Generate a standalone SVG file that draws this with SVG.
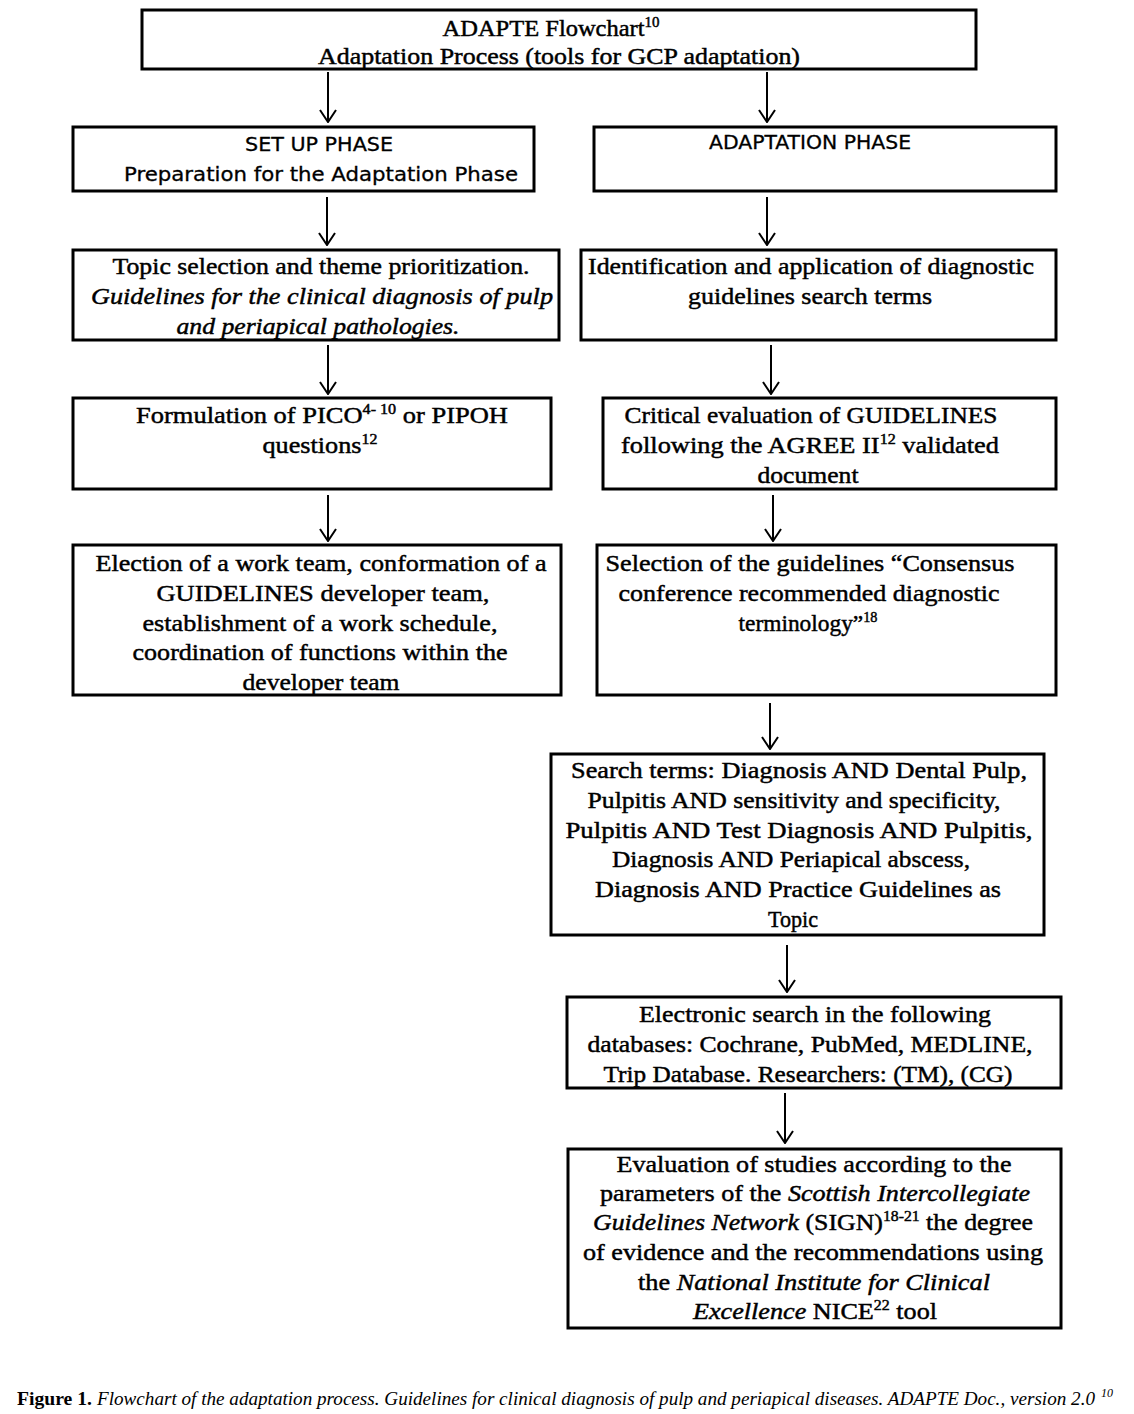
<svg xmlns="http://www.w3.org/2000/svg" width="1134" height="1414" viewBox="0 0 1134 1414">
<style>
  .box { fill: #ffffff; stroke: #000000; stroke-width: 3; }
  .t { font-family: "Liberation Serif", "Times New Roman", serif; font-size: 23px; fill: #000; stroke: #000; stroke-width: 0.45; text-anchor: middle; }
  .s { font-family: "DejaVu Sans", "Liberation Sans", sans-serif; font-size: 19px; fill: #000; stroke: #000; stroke-width: 0.3; text-anchor: middle; }
  .i { font-style: italic; }
  .sup { font-size: 14px; }
  .conn line { stroke: #000; stroke-width: 2; fill: none; }
  .cap { font-family: "Liberation Serif", "Times New Roman", serif; font-size: 19px; fill: #000; }
  .capsup { font-family: "Liberation Serif", "Times New Roman", serif; font-size: 12px; font-style: italic; fill: #000; }
</style>
<defs>
  <marker id="arr" viewBox="0 0 14 18" refX="13" refY="9" markerWidth="14" markerHeight="18" markerUnits="userSpaceOnUse" orient="auto">
    <path d="M1,1 L13,9 L1,17" fill="none" stroke="#000" stroke-width="2"/>
  </marker>
</defs>
<rect width="1134" height="1414" fill="#ffffff"/>

<g id="n-top">
  <rect class="box" x="142" y="10" width="834" height="59"/>
  <text class="t" x="551" y="36" textLength="217" lengthAdjust="spacingAndGlyphs">ADAPTE Flowchart<tspan class="sup" dy="-9">10</tspan></text>
  <text class="t" x="559" y="64" textLength="482" lengthAdjust="spacingAndGlyphs">Adaptation Process (tools for GCP adaptation)</text>
</g>

<g id="n-setup">
  <rect class="box" x="73" y="127" width="461" height="64"/>
  <text class="s" x="319" y="151" textLength="148" lengthAdjust="spacingAndGlyphs">SET UP PHASE</text>
  <text class="s" x="321" y="181" textLength="394" lengthAdjust="spacingAndGlyphs">Preparation for the Adaptation Phase</text>
</g>

<g id="n-adaptation">
  <rect class="box" x="594" y="127" width="462" height="64"/>
  <text class="s" x="810" y="149" textLength="202" lengthAdjust="spacingAndGlyphs">ADAPTATION  PHASE</text>
</g>

<g id="n-topic">
  <rect class="box" x="73" y="250" width="486" height="90"/>
  <text class="t" x="321" y="274" textLength="417" lengthAdjust="spacingAndGlyphs">Topic selection and theme prioritization.</text>
  <text class="t i" x="322" y="304" textLength="462" lengthAdjust="spacingAndGlyphs">Guidelines for the clinical diagnosis of pulp</text>
  <text class="t i" x="318" y="334" textLength="283" lengthAdjust="spacingAndGlyphs">and periapical pathologies.</text>
</g>

<g id="n-identification">
  <rect class="box" x="581" y="250" width="475" height="90"/>
  <text class="t" x="811" y="274" textLength="446" lengthAdjust="spacingAndGlyphs">Identification  and application of diagnostic</text>
  <text class="t" x="810" y="304" textLength="244" lengthAdjust="spacingAndGlyphs">guidelines search terms</text>
</g>

<g id="n-formulation">
  <rect class="box" x="73" y="398" width="478" height="91"/>
  <text class="t" x="322" y="423" textLength="372" lengthAdjust="spacingAndGlyphs">Formulation of PICO<tspan class="sup" dy="-9">4- 10</tspan><tspan dy="9"> or PIPOH</tspan></text>
  <text class="t" x="320" y="453" textLength="115" lengthAdjust="spacingAndGlyphs">questions<tspan class="sup" dy="-9">12</tspan></text>
</g>

<g id="n-critical">
  <rect class="box" x="603" y="398" width="453" height="91"/>
  <text class="t" x="811" y="423" textLength="373" lengthAdjust="spacingAndGlyphs">Critical evaluation of GUIDELINES</text>
  <text class="t" x="810" y="453" textLength="378" lengthAdjust="spacingAndGlyphs">following the AGREE II<tspan class="sup" dy="-9">12</tspan><tspan dy="9"> validated</tspan></text>
  <text class="t" x="808" y="483" textLength="101" lengthAdjust="spacingAndGlyphs">document</text>
</g>

<g id="n-election">
  <rect class="box" x="73" y="545" width="488" height="150"/>
  <text class="t" x="321" y="571" textLength="451" lengthAdjust="spacingAndGlyphs">Election of a work team, conformation  of a</text>
  <text class="t" x="323" y="601" textLength="333" lengthAdjust="spacingAndGlyphs">GUIDELINES  developer team,</text>
  <text class="t" x="320" y="631" textLength="355" lengthAdjust="spacingAndGlyphs">establishment of a work schedule,</text>
  <text class="t" x="320" y="660" textLength="375" lengthAdjust="spacingAndGlyphs">coordination  of functions  within the</text>
  <text class="t" x="321" y="690" textLength="157" lengthAdjust="spacingAndGlyphs">developer team</text>
</g>

<g id="n-selection">
  <rect class="box" x="597" y="545" width="459" height="150"/>
  <text class="t" x="810" y="571" textLength="409" lengthAdjust="spacingAndGlyphs">Selection of the guidelines  “Consensus</text>
  <text class="t" x="809" y="601" textLength="381" lengthAdjust="spacingAndGlyphs">conference   recommended  diagnostic</text>
  <text class="t" x="808" y="631" textLength="139" lengthAdjust="spacingAndGlyphs">terminology”<tspan class="sup" dy="-9">18</tspan></text>
</g>

<g id="n-search">
  <rect class="box" x="551" y="754" width="493" height="181"/>
  <text class="t" x="799" y="778" textLength="456" lengthAdjust="spacingAndGlyphs">Search terms: Diagnosis  AND  Dental Pulp,</text>
  <text class="t" x="794" y="808" textLength="413" lengthAdjust="spacingAndGlyphs">Pulpitis AND sensitivity and specificity,</text>
  <text class="t" x="799" y="838" textLength="467" lengthAdjust="spacingAndGlyphs">Pulpitis AND Test Diagnosis AND Pulpitis,</text>
  <text class="t" x="791" y="867" textLength="358" lengthAdjust="spacingAndGlyphs">Diagnosis  AND  Periapical abscess,</text>
  <text class="t" x="798" y="897" textLength="406" lengthAdjust="spacingAndGlyphs">Diagnosis  AND  Practice  Guidelines as</text>
  <text class="t" x="793" y="927" textLength="50" lengthAdjust="spacingAndGlyphs">Topic</text>
</g>

<g id="n-electronic">
  <rect class="box" x="567" y="997" width="494" height="91"/>
  <text class="t" x="815" y="1022" textLength="352" lengthAdjust="spacingAndGlyphs">Electronic  search  in the following</text>
  <text class="t" x="810" y="1052" textLength="445" lengthAdjust="spacingAndGlyphs">databases:  Cochrane,  PubMed, MEDLINE,</text>
  <text class="t" x="808" y="1082" textLength="409" lengthAdjust="spacingAndGlyphs">Trip Database. Researchers:  (TM), (CG)</text>
</g>

<g id="n-evaluation">
  <rect class="box" x="568" y="1149" width="493" height="179"/>
  <text class="t" x="814" y="1172" textLength="395" lengthAdjust="spacingAndGlyphs">Evaluation  of  studies  according  to the</text>
  <text class="t" x="815" y="1201" textLength="430" lengthAdjust="spacingAndGlyphs">parameters  of the <tspan class="i">Scottish Intercollegiate</tspan></text>
  <text class="t" x="813" y="1230" textLength="440" lengthAdjust="spacingAndGlyphs"><tspan class="i">Guidelines Network</tspan> (SIGN)<tspan class="sup" dy="-9">18-21</tspan><tspan dy="9"> the degree</tspan></text>
  <text class="t" x="813" y="1260" textLength="460" lengthAdjust="spacingAndGlyphs">of evidence  and the recommendations  using</text>
  <text class="t" x="814" y="1290" textLength="352" lengthAdjust="spacingAndGlyphs">the <tspan class="i">National Institute for Clinical</tspan></text>
  <text class="t" x="815" y="1319" textLength="244" lengthAdjust="spacingAndGlyphs"><tspan class="i">Excellence</tspan>  NICE<tspan class="sup" dy="-9">22</tspan><tspan dy="9"> tool</tspan></text>
</g>

<g id="connectors" class="conn">
  <line x1="328" y1="72" x2="328" y2="122" marker-end="url(#arr)"/>
  <line x1="767" y1="72" x2="767" y2="122" marker-end="url(#arr)"/>
  <line x1="327" y1="197" x2="327" y2="245" marker-end="url(#arr)"/>
  <line x1="767" y1="197" x2="767" y2="245" marker-end="url(#arr)"/>
  <line x1="328" y1="345" x2="328" y2="394" marker-end="url(#arr)"/>
  <line x1="771" y1="345" x2="771" y2="394" marker-end="url(#arr)"/>
  <line x1="328" y1="495" x2="328" y2="541" marker-end="url(#arr)"/>
  <line x1="773" y1="495" x2="773" y2="541" marker-end="url(#arr)"/>
  <line x1="770" y1="703" x2="770" y2="749" marker-end="url(#arr)"/>
  <line x1="787" y1="945" x2="787" y2="992" marker-end="url(#arr)"/>
  <line x1="785" y1="1093" x2="785" y2="1143" marker-end="url(#arr)"/>
</g>

<g id="caption">
  <text class="cap" x="17" y="1405" font-weight="bold" textLength="75" lengthAdjust="spacingAndGlyphs">Figure 1.</text>
  <text class="cap" x="97" y="1405" font-style="italic" textLength="998" lengthAdjust="spacingAndGlyphs">Flowchart of the adaptation process. Guidelines for clinical diagnosis of pulp and periapical diseases. ADAPTE Doc., version 2.0</text>
  <text class="capsup" x="1101" y="1397">10</text>
</g>
</svg>
